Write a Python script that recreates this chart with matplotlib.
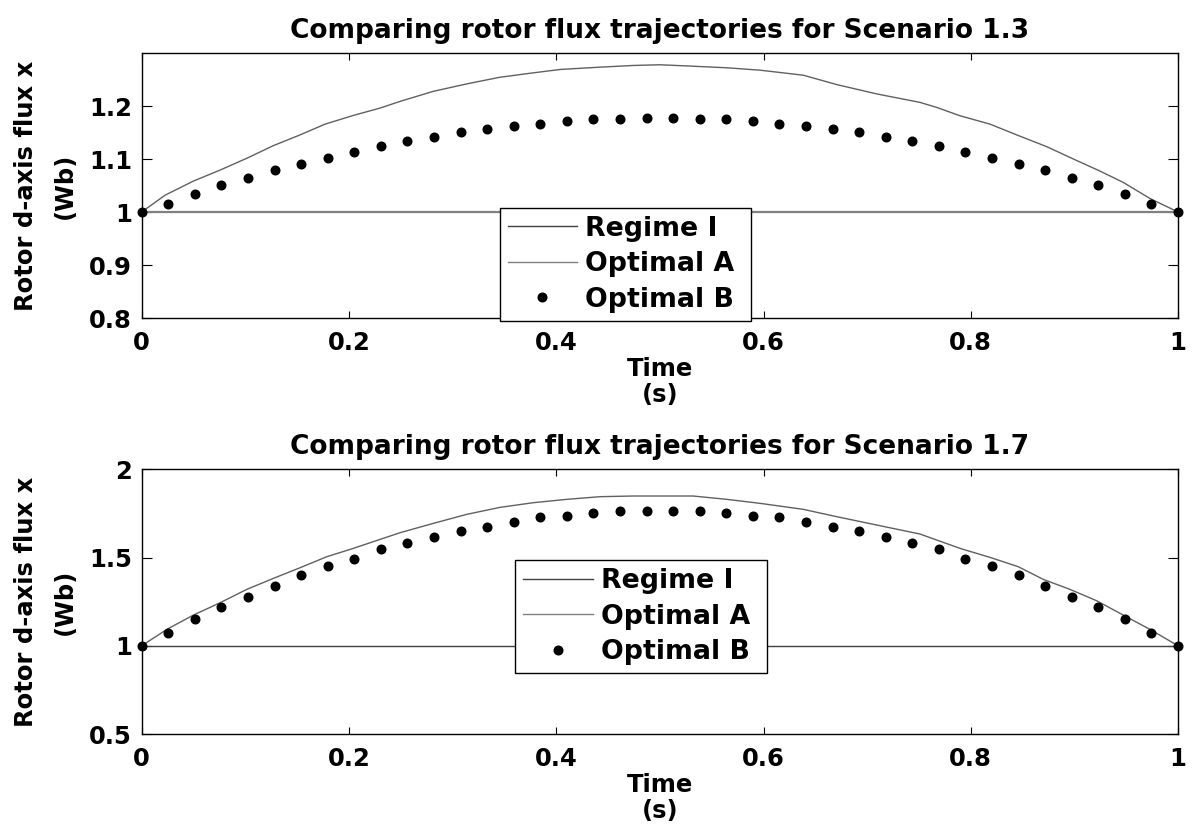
import numpy as np
import matplotlib
matplotlib.use("Agg")
import matplotlib.pyplot as plt

plt.rcParams['font.family'] = ['DejaVu Sans']
plt.rcParams['font.weight'] = 'bold'

# ---------------- data ----------------
titles = ["Comparing rotor flux trajectories for Scenario 1.3",
          "Comparing rotor flux trajectories for Scenario 1.7"]
legend_labels = ["Regime I", "Optimal A", "Optimal B"]

regime_t = [0.0, 1.0]
regime_v = [1.0, 1.0]

# Optimal A (Scenario 1.3)
optA1_t = [0, 0.0225, 0.0498, 0.0756, 0.1013, 0.127, 0.1528, 0.1769, 0.2042, 0.23,
           0.2493, 0.2814, 0.3136, 0.3458, 0.378, 0.4036, 0.4423, 0.4744, 0.5, 0.532,
           0.5645, 0.5967, 0.6384, 0.6707, 0.7093, 0.751, 0.7672, 0.7896, 0.8186, 0.8443,
           0.8733, 0.899, 0.9247, 0.9472, 0.973, 1.0]
optA1_v = [1.0, 1.0317, 1.0583, 1.0791, 1.1013, 1.1252, 1.1455, 1.1658, 1.1822, 1.1961,
           1.2087, 1.2277, 1.2417, 1.2543, 1.2626, 1.2689, 1.2733, 1.2765, 1.2778, 1.2751,
           1.2721, 1.2676, 1.2581, 1.2404, 1.2228, 1.2068, 1.1973, 1.1816, 1.1658, 1.1455,
           1.1233, 1.1000, 1.0772, 1.0558, 1.0254, 1.0]

# Optimal A (Scenario 1.7)
optA2_t = [0, 0.0241, 0.0498, 0.0756, 0.1013, 0.127, 0.1528, 0.1785, 0.2042, 0.23,
           0.2493, 0.2814, 0.3136, 0.3458, 0.378, 0.4101, 0.4423, 0.4744, 0.5, 0.532,
           0.5645, 0.5967, 0.6384, 0.6707, 0.7093, 0.751, 0.7672, 0.7896, 0.8186, 0.8459,
           0.87, 0.8958, 0.9215, 0.9472, 0.973, 1.0]
optA2_v = [1.0, 1.0926, 1.1739, 1.2439, 1.3195, 1.3819, 1.4423, 1.5047, 1.552, 1.603,
           1.6408, 1.6938, 1.7448, 1.7845, 1.811, 1.8299, 1.845, 1.8488, 1.8488, 1.8488,
           1.8299, 1.8072, 1.7732, 1.7316, 1.6843, 1.6333, 1.5992, 1.552, 1.501, 1.448,
           1.3762, 1.3195, 1.2552, 1.1739, 1.0926, 1.0]

# Optimal B samples (40 points on [0, 1])
optB_t = np.linspace(0.0, 1.0, 40)
optB1_v = [1.000, 1.016, 1.034, 1.051, 1.065, 1.079, 1.091, 1.102, 1.114, 1.125,
           1.134, 1.142, 1.151, 1.157, 1.162, 1.166, 1.171, 1.175, 1.175, 1.177,
           1.177, 1.175, 1.175, 1.171, 1.166, 1.162, 1.157, 1.151, 1.142, 1.134,
           1.125, 1.114, 1.102, 1.091, 1.079, 1.065, 1.051, 1.034, 1.016, 1.000]
optB2_v = [1.000, 1.072, 1.151, 1.219, 1.279, 1.340, 1.399, 1.450, 1.494, 1.546,
           1.580, 1.614, 1.648, 1.675, 1.703, 1.728, 1.737, 1.754, 1.764, 1.764,
           1.764, 1.764, 1.754, 1.737, 1.728, 1.703, 1.675, 1.648, 1.614, 1.580,
           1.546, 1.494, 1.450, 1.399, 1.340, 1.279, 1.219, 1.151, 1.072, 1.000]

x_ticks = [0, 0.2, 0.4, 0.6, 0.8, 1.0]
x_ticklabels = ["0", "0.2", "0.4", "0.6", "0.8", "1"]
y1_ticks = [0.8, 0.9, 1.0, 1.1, 1.2]
y1_ticklabels = ["0.8", "0.9", "1", "1.1", "1.2"]
y1_lim = (0.8, 1.3)
y2_ticks = [0.5, 1.0, 1.5, 2.0]
y2_ticklabels = ["0.5", "1", "1.5", "2"]
y2_lim = (0.5, 2.0)

# ---------------- figure ----------------
fig = plt.figure(figsize=(11.95, 8.36), dpi=100)
ax1 = fig.add_axes([0.1186, 0.6196, 0.8672, 0.3170])
ax2 = fig.add_axes([0.1186, 0.1220, 0.8672, 0.3166])

configs = [
    (ax1, optA1_t, optA1_v, optB1_v, y1_ticks, y1_ticklabels, y1_lim, titles[0],
     (0.3453, -0.011, 0.2423, 0.428), '#808080', 1.6),
    (ax2, optA2_t, optA2_v, optB2_v, y2_ticks, y2_ticklabels, y2_lim, titles[1],
     (0.3606, 0.2149, 0.2426, 0.4427), '#404040', 1.0),
]

for ax, at, av, bv, yt, ytl, ylim, title, lbox, rcol, rlw in configs:
    ax.plot(regime_t, regime_v, color=rcol, lw=rlw, label=legend_labels[0])
    ax.plot(at, av, color='#606060', lw=1.0, label=legend_labels[1])
    ax.plot(optB_t, bv, linestyle='none', marker='o', markersize=6.2,
            color='black', clip_on=False, label=legend_labels[2], zorder=3)
    ax.set_xlim(0, 1)
    ax.set_ylim(*ylim)
    ax.set_xticks(x_ticks)
    ax.set_xticklabels(x_ticklabels)
    ax.set_yticks(yt)
    ax.set_yticklabels(ytl)
    ax.tick_params(axis='both', which='both', direction='in', top=True, right=True,
                   labelsize=17.5, width=0.8)
    ax.tick_params(axis='x', length=5, pad=9)
    ax.tick_params(axis='y', length=7, pad=7)
    for lab in ax.get_xticklabels() + ax.get_yticklabels():
        lab.set_fontweight('bold')
    for sp in ax.spines.values():
        sp.set_linewidth(1.0)
        sp.set_color('black')
    ax.set_title(title, fontsize=19, fontweight='bold', pad=11)
    ax.set_xlabel("Time\n(s)", fontsize=17.5, fontweight='bold', labelpad=2, linespacing=1.1)
    ax.set_ylabel("Rotor d-axis flux x\n(Wb)", fontsize=17.5, fontweight='bold',
                  labelpad=9, linespacing=1.75)
    leg = ax.legend(loc='upper left', bbox_to_anchor=lbox, mode='expand',
                    borderaxespad=0, fancybox=False, framealpha=1, edgecolor='black',
                    prop={'size': 19.3, 'weight': 'bold'}, handlelength=2.6,
                    handletextpad=0.3, borderpad=0.3, labelspacing=0.36, numpoints=1)
    leg.get_frame().set_linewidth(1.0)
    leg.get_lines()[0].set_color('#404040')
    leg.get_lines()[0].set_linewidth(1.0)
    leg.get_lines()[1].set_color('#808080')
    leg.set_zorder(5)

fig.savefig("out.png", dpi=100)
